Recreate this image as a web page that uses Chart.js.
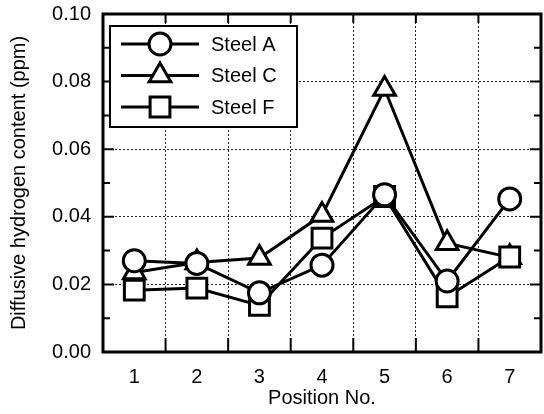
<!DOCTYPE html>
<html>
<head>
<meta charset="utf-8">
<script src="https://cdn.jsdelivr.net/npm/chart.js@4"></script>
<style>
  html, body { margin: 0; padding: 0; background: #fff; }
  #wrap { width: 544px; height: 414px; }
</style>
</head>
<body>
<div id="wrap"><canvas id="chart" width="544" height="414"></canvas></div>
<script>
// 数据
const positions = ['1', '2', '3', '4', '5', '6', '7'];
const steelA = [0.0270, 0.0262, 0.0175, 0.0257, 0.0465, 0.0210, 0.0453];
const steelC = [0.0235, 0.0265, 0.0278, 0.0405, 0.0778, 0.0322, 0.0280];
const steelF = [0.0183, 0.0189, 0.0138, 0.0337, 0.0460, 0.0163, 0.0281];
const yTicks = [0, 0.02, 0.04, 0.06, 0.08, 0.10];

const FONT = "'Liberation Sans', Arial, sans-serif";

// 图例条目
const legendItems = [
    { label: 'Steel A', style: 'circle', radius: 11 },
    { label: 'Steel C', style: 'triangle', radius: 12.5 },
    { label: 'Steel F', style: 'rect', radius: 14 }
];

function series(label, data, style, radius, order) {
    return {
        label: label,
        data: data,
        order: order,
        borderColor: '#000',
        borderWidth: 3,
        backgroundColor: '#fff',
        pointStyle: style,
        pointRadius: radius,
        pointBorderWidth: 3,
        pointBackgroundColor: '#fff',
        pointBorderColor: '#000',
        tension: 0
    };
}

/**
 * 外框、内向刻度和图例
 */
const framePlugin = {
    id: 'frame',
    afterDraw(chart) {
        const { ctx, chartArea: a, scales } = chart;
        const x = scales.x, y = scales.y;
        ctx.save();
        ctx.strokeStyle = '#000';
        ctx.lineCap = 'butt';

        // 刻度
        ctx.lineWidth = 2;
        ctx.beginPath();
        for (let i = 0; i <= positions.length; i++) {
            const px = x.getPixelForValue(i - 0.5);
            ctx.moveTo(px, a.bottom); ctx.lineTo(px, a.bottom - 14);
            ctx.moveTo(px, a.top); ctx.lineTo(px, a.top + 9);
        }
        for (let v = 0; v <= 10; v++) {
            const py = y.getPixelForValue(v / 100);
            const len = v % 2 === 0 ? 11 : 7;
            ctx.moveTo(a.left, py); ctx.lineTo(a.left + len, py);
            ctx.moveTo(a.right, py); ctx.lineTo(a.right - len, py);
        }
        ctx.stroke();

        // 外框
        ctx.lineWidth = 3;
        ctx.strokeRect(a.left, a.top, a.right - a.left, a.bottom - a.top);

        // 图例
        const bx = a.left + 7, by = a.top + 12, bw = 187, bh = 101;
        ctx.fillStyle = '#fff';
        ctx.fillRect(bx, by, bw, bh);
        ctx.lineWidth = 2;
        ctx.strokeRect(bx, by, bw, bh);
        ctx.font = '20px ' + FONT;
        ctx.textBaseline = 'middle';
        legendItems.forEach((item, i) => {
            const ry = by + 18 + i * 31.5;
            ctx.lineWidth = 3;
            ctx.strokeStyle = '#000';
            ctx.beginPath();
            ctx.moveTo(bx + 11, ry); ctx.lineTo(bx + 89, ry);
            ctx.stroke();
            ctx.fillStyle = '#fff';
            Chart.helpers.drawPoint(ctx, {
                pointStyle: item.style, radius: item.radius, borderWidth: 3, rotation: 0
            }, bx + 50, ry);
            ctx.fillStyle = '#000';
            ctx.fillText(item.label, bx + 101, ry + 1);
        });
        ctx.restore();
    }
};

new Chart(document.getElementById('chart'), {
    type: 'line',
    data: {
        labels: positions,
        datasets: [
            series('Steel A', steelA, 'circle', 11, 0),
            series('Steel C', steelC, 'triangle', 12.5, 2),
            series('Steel F', steelF, 'rect', 14, 1)
        ]
    },
    options: {
        responsive: false,
        animation: false,
        layout: { autoPadding: false, padding: { top: 14, right: 3, left: 0, bottom: 0 } },
        plugins: {
            legend: { display: false },
            tooltip: { enabled: false }
        },
        scales: {
            x: {
                type: 'category',
                offset: true,
                grid: {
                    offset: true,
                    color: '#222',
                    lineWidth: 1,
                    drawTicks: false
                },
                border: { display: false, dash: [2, 2] },
                ticks: {
                    color: '#000',
                    font: { family: FONT, size: 20 },
                    padding: 13,
                    maxRotation: 0
                },
                title: {
                    display: true,
                    text: 'Position No.',
                    color: '#000',
                    font: { family: FONT, size: 20 },
                    padding: { top: 0, bottom: 4 }
                },
                afterFit(scale) {
                    scale.height = 62;
                    scale.paddingLeft = 0;
                    scale.paddingRight = 0;
                }
            },
            y: {
                min: 0,
                max: 0.10,
                afterBuildTicks(scale) { scale.ticks = yTicks.map(v => ({ value: v })); },
                grid: {
                    color: '#222',
                    lineWidth: 1,
                    drawTicks: false
                },
                border: { display: false, dash: [2, 2] },
                ticks: {
                    color: '#000',
                    font: { family: FONT, size: 20 },
                    padding: 12,
                    callback: v => v.toFixed(2)
                },
                title: {
                    display: true,
                    text: 'Diffusive hydrogen content (ppm)',
                    color: '#000',
                    font: { family: FONT, size: 20 },
                    padding: { top: 7, bottom: 0 }
                },
                afterFit(scale) {
                    scale.width = 103;
                    scale.paddingTop = 0;
                    scale.paddingBottom = 0;
                }
            }
        }
    },
    plugins: [framePlugin]
});
</script>
</body>
</html>
